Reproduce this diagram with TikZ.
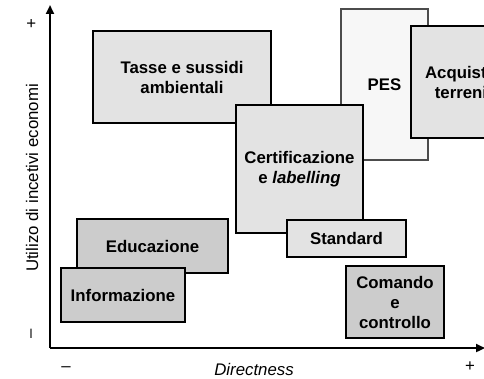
\documentclass[tikz,border=0pt]{standalone}
\usepackage{fontspec}
\setmainfont{Liberation Sans}
\usetikzlibrary{arrows.meta,shadows}

\begin{document}
\begin{tikzpicture}[
    x=1pt, y=-1pt,
    font=\fontsize{16.8}{20}\selectfont,
    box/.style={draw=black, line width=1.3pt, rectangle, align=center, inner sep=0pt,
        font=\fontsize{16.8}{20}\selectfont\bfseries,
        drop shadow={shadow xshift=1.2pt, shadow yshift=-1.2pt, fill=black, opacity=0.25}},
    lightbox/.style={box, fill=black!11},
    darkbox/.style={box, fill=black!20},
    pesbox/.style={box, fill=black!3, draw=black!70},
    axis/.style={line width=2.6pt, -{Triangle[length=9pt,width=8pt]}},
]

% Frame
\clip (0,0) rectangle (484,379);

% Axes
\coordinate (origin) at (50,348);
\coordinate (ytop) at (50,5);
\coordinate (xend) at (485,348);
\draw[axis] (origin) -- (ytop);
\draw[axis] (origin) -- (xend);

% Axis labels
\node[rotate=90] (yplus) at (32,24) {+};
\node[rotate=90] (yminus) at (33,334) {--};
\node (xminus) at (66,369) {--};
\node (xplus) at (470,367) {+};
\node[rotate=90] (ylabel) at (32,178) {Utilizo di incetivi economi};
\node[font=\fontsize{16.8}{20}\selectfont\itshape] (xlabel) at (254,369) {Directness};

% Boxes (back to front)
\node[lightbox, minimum width=178pt, minimum height=92pt] (tasse) at (182,77)
    {Tasse e sussidi\\ambientali};
\node[pesbox, minimum width=87pt, minimum height=151pt] (pes) at (384.5,84.5) {PES};
\node[lightbox, minimum width=100pt, minimum height=112pt] (acquisto) at (461,82)
    {Acquisto\\terreni};
\node[lightbox, minimum width=127pt, minimum height=128pt] (cert) at (299.5,169)
    {Certificazione\\e \textit{labelling}};
\node[lightbox, minimum width=119pt, minimum height=37pt] (standard) at (346.5,238.5) {Standard};

\node[darkbox, minimum width=151pt, minimum height=54pt] (educ) at (152.5,246) {Educazione};
\node[darkbox, minimum width=124pt, minimum height=54pt] (info) at (123,295) {Informazione};
\node[darkbox, minimum width=98pt, minimum height=72pt] (comando) at (395,302)
    {Comando\\e\\controllo};

\end{tikzpicture}
\end{document}
